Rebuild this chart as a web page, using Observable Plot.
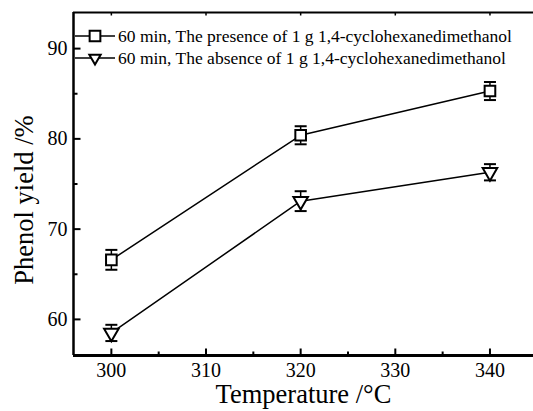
<!DOCTYPE html>
<html>
<head>
<meta charset="utf-8">
<script src="https://cdn.jsdelivr.net/npm/d3@7"></script>
<script src="https://cdn.jsdelivr.net/npm/@observablehq/plot@0.6"></script>
<style>
  html, body { margin: 0; padding: 0; background: white; overflow: hidden; }
</style>
</head>
<body>
<div id="chart"></div>
<script>
// ---- data ----
const temps = [300, 320, 340];
const presence = [66.6, 80.4, 85.3];
const presenceErr = [1.1, 1.0, 1.0];
const absence = [58.5, 73.1, 76.3];
const absenceErr = [0.9, 1.1, 0.9];
const seriesNames = [
  "60 min, The presence of 1 g 1,4-cyclohexanedimethanol",
  "60 min, The absence of 1 g 1,4-cyclohexanedimethanol"
];
const xTicks = [300, 310, 320, 330, 340];
const xMinorTicks = [305, 315, 325, 335];
const yTicks = [60, 70, 80, 90];
const yMinorTicks = [65, 75, 85];
const xDomain = [296, 344.6];
const yDomain = [56, 94];
const xLabel = "Temperature /°C";
const yLabel = "Phenol yield /%";

const rows = [];
temps.forEach((t, i) => rows.push({temp: t, value: presence[i], err: presenceErr[i], series: seriesNames[0]}));
temps.forEach((t, i) => rows.push({temp: t, value: absence[i], err: absenceErr[i], series: seriesNames[1]}));

const FONT = "Liberation Serif, Times New Roman, serif";
const cap = {draw(ctx) { ctx.moveTo(-6, 0); ctx.lineTo(6, 0); }};
const tickUp = n => ({draw(ctx) { ctx.moveTo(0, 0); ctx.lineTo(0, -n); }});
const tickDown = n => ({draw(ctx) { ctx.moveTo(0, 0); ctx.lineTo(0, n); }});
const tickRight = n => ({draw(ctx) { ctx.moveTo(0, 0); ctx.lineTo(n, 0); }});

const plot = Plot.plot({
  width: 533,
  height: 411,
  marginLeft: 73,
  marginRight: 0,
  marginTop: 12,
  marginBottom: 56,
  style: {fontFamily: FONT, color: "black", background: "white"},
  x: {domain: xDomain},
  y: {domain: yDomain},
  marks: [
    // axis tick labels
    Plot.axisX(xTicks, {anchor: "bottom", tickSize: 0, tickPadding: 7, fontSize: 20, label: null}),
    Plot.axisY(yTicks, {anchor: "left", tickSize: 0, tickPadding: 6, fontSize: 20, label: null}),
    // inward ticks
    Plot.dot(xTicks, {x: d => d, frameAnchor: "bottom", symbol: tickUp(7), stroke: "black", strokeWidth: 2}),
    Plot.dot(xMinorTicks, {x: d => d, frameAnchor: "bottom", symbol: tickUp(4), stroke: "black", strokeWidth: 2}),
    Plot.dot(xTicks, {x: d => d, frameAnchor: "top", symbol: tickDown(3), stroke: "black", strokeWidth: 1.5}),
    Plot.dot(yTicks, {y: d => d, frameAnchor: "left", symbol: tickRight(7), stroke: "black", strokeWidth: 2}),
    Plot.dot(yMinorTicks, {y: d => d, frameAnchor: "left", symbol: tickRight(4), stroke: "black", strokeWidth: 2}),
    // frame lines
    Plot.ruleY([yDomain[0]], {stroke: "black", strokeWidth: 2.8}),
    Plot.ruleX([xDomain[0]], {stroke: "black", strokeWidth: 2.5}),
    Plot.ruleY([yDomain[1]], {stroke: "black", strokeWidth: 2}),
    // axis titles
    Plot.text([xLabel], {text: d => d, frameAnchor: "bottom", textAnchor: "middle", lineAnchor: "bottom", dy: 47, fontSize: 26.5, fontFamily: FONT, fill: "black"}),
    Plot.text([yLabel], {text: d => d, frameAnchor: "left", textAnchor: "middle", lineAnchor: "middle", dx: -49, dy: 16, rotate: -90, fontSize: 26.5, fontFamily: FONT, fill: "black"}),
    // lines
    Plot.line(rows, {x: "temp", y: "value", z: "series", stroke: "black", strokeWidth: 1.5}),
    // error bars
    Plot.ruleX(rows, {x: "temp", y1: d => d.value - d.err, y2: d => d.value + d.err, stroke: "black", strokeWidth: 1.5}),
    Plot.dot(rows, {x: "temp", y: d => d.value + d.err, symbol: cap, stroke: "black", strokeWidth: 2}),
    Plot.dot(rows, {x: "temp", y: d => d.value - d.err, symbol: cap, stroke: "black", strokeWidth: 2}),
    // markers
    Plot.dot(rows.filter(d => d.series === seriesNames[0]), {x: "temp", y: "value", symbol: "square", r: 6, stroke: "black", fill: "white", strokeWidth: 2}),
    Plot.dot(rows.filter(d => d.series === seriesNames[1]), {x: "temp", y: "value", symbol: "triangle", rotate: 180, r: 5.4, stroke: "black", fill: "white", strokeWidth: 2})
  ]
});

document.getElementById("chart").appendChild(plot);

// legend inside the plot area
const svg = d3.select(plot);
const lg = svg.append("g").attr("class", "legend").attr("text-anchor", "start");
const legendRows = [36, 58];
seriesNames.forEach((name, i) => {
  const y = legendRows[i];
  lg.append("line").attr("x1", 75).attr("x2", 115).attr("y1", y).attr("y2", y)
    .attr("stroke", "black").attr("stroke-width", 1.5);
  const isSq = i === 0;
  const sym = isSq ? d3.symbol(d3.symbolSquare, 115) : d3.symbol(d3.symbolTriangle2, Math.PI * 5.4 * 5.4);
  lg.append("path").attr("d", sym()).attr("transform", `translate(95,${y})` + (isSq ? "" : " rotate(180)"))
    .attr("fill", "white").attr("stroke", "black").attr("stroke-width", 2);
  lg.append("text").attr("x", 118).attr("y", y).attr("dy", "0.32em").attr("text-anchor", "start")
    .attr("font-family", FONT).attr("font-size", 17.5).attr("fill", "black").text(name);
});
</script>
</body>
</html>
